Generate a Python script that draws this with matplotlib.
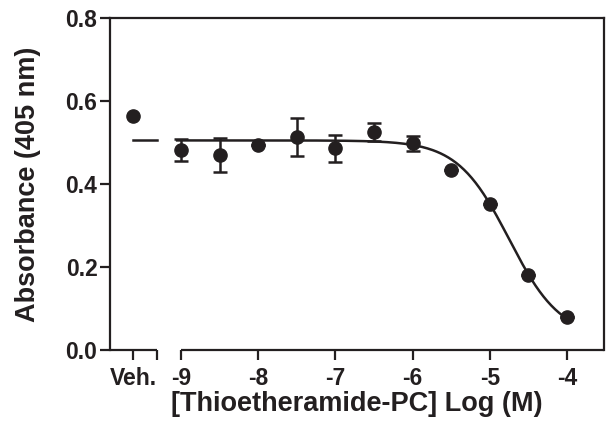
import numpy as np
import matplotlib
matplotlib.use("Agg")
import matplotlib.pyplot as plt

plt.rcParams["font.family"] = ["Liberation Sans", "DejaVu Sans"]
plt.rcParams["font.weight"] = "bold"

INK = "#231f20"

# data
log_conc = [-9, -8.5, -8, -7.5, -7, -6.5, -6, -5.5, -5, -4.5, -4]
absorb = [0.482, 0.470, 0.494, 0.513, 0.486, 0.525, 0.498, 0.434, 0.352, 0.181, 0.080]
err = [0.026, 0.040, 0.0, 0.045, 0.032, 0.022, 0.018, 0.0, 0.0, 0.0, 0.0]
veh_value = 0.563

# fitted curve parameters (sigmoidal dose-response)
top, bottom, log_ic50, hill = 0.505, 0.03, -4.75, 1.3

# positions for the broken axis
VEH_X = -9.62
SEG1_END = -9.31
XMIN, XMAX = -9.92, -3.52


def fit(x):
    return bottom + (top - bottom) / (1 + 10 ** (hill * (x - log_ic50)))


fig = plt.figure(figsize=(6.07, 4.28), dpi=100)
ax = fig.add_axes([0.1812, 0.1822, 0.8138, 0.7758])

xs = np.linspace(-9.05, -4, 300)
ax.plot(xs, fit(xs), color=INK, lw=1.8, zorder=2)
ax.plot([VEH_X, SEG1_END], [top, top], color=INK, lw=1.8, zorder=2)

ax.errorbar(log_conc, absorb, yerr=err, fmt="o", color=INK, ms=9.5,
            elinewidth=1.8, capsize=5, capthick=1.8, zorder=3)
ax.plot([VEH_X], [veh_value], "o", color=INK, ms=9.5, zorder=3)

ax.set_xlim(XMIN, XMAX)
ax.set_ylim(0, 0.8)
ax.set_yticks([0.0, 0.2, 0.4, 0.6, 0.8])
ax.set_yticklabels(["0.0", "0.2", "0.4", "0.6", "0.8"])
ax.set_xticks([VEH_X, SEG1_END, -9, -8, -7, -6, -5, -4])
ax.set_xticklabels(["Veh.", "", "-9", "-8", "-7", "-6", "-5", "-4"])

for s in ["left", "top", "right"]:
    ax.spines[s].set_linewidth(1.6)
    ax.spines[s].set_color(INK)
ax.spines["bottom"].set_visible(False)
ax.plot([XMIN, SEG1_END], [0, 0], color=INK, lw=1.6, clip_on=False,
        solid_capstyle="butt", zorder=4)
ax.plot([-9, XMAX], [0, 0], color=INK, lw=1.6, clip_on=False,
        solid_capstyle="butt", zorder=4)

ax.tick_params(direction="out", length=7, width=1.6, color=INK,
               labelsize=16.5, labelcolor=INK)
ax.tick_params(axis="y", pad=2)
ax.tick_params(axis="x", pad=5)

ax.set_ylabel("Absorbance (405 nm)", fontsize=19.5, fontweight="bold",
              color=INK, labelpad=18)
ax.set_xlabel("[Thioetheramide-PC] Log (M)", fontsize=19.5,
              fontweight="bold", color=INK, labelpad=1)

fig.savefig("out.png", dpi=100)
